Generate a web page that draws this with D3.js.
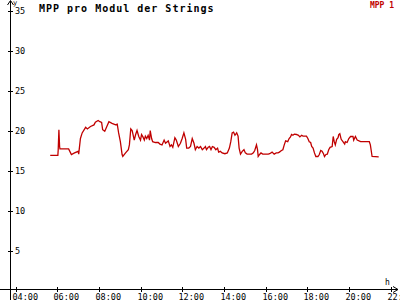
<!DOCTYPE html>
<html>
<head>
<meta charset="utf-8">
<script src="https://cdn.jsdelivr.net/npm/d3@7"></script>
<style>
  body { margin: 0; background: #fff; }
  svg { display: block; }
  text { font-family: "DejaVu Sans Mono", monospace; }
</style>
</head>
<body>
<div id="chart"></div>
<script>
// series: time of day and MPP value
const times = ["05:40","06:02","06:03","06:05","06:07","06:08","06:33","06:41","06:50","07:01","07:02","07:07","07:12","07:22","07:27","07:36","07:46","07:50","07:58","08:03","08:08","08:11","08:17","08:19","08:29","08:38","08:48","08:53","08:57","09:02","09:07","09:09","09:17","09:25","09:28","09:32","09:36","09:42","09:46","09:50","09:55","10:00","10:03","10:07","10:11","10:14","10:18","10:22","10:26","10:28","10:32","10:35","10:43","10:51","10:56","11:02","11:08","11:12","11:20","11:25","11:29","11:33","11:39","11:43","11:49","11:55","12:00","12:05","12:10","12:13","12:19","12:24","12:29","12:34","12:38","12:43","12:48","12:53","12:58","13:03","13:07","13:10","13:15","13:19","13:23","13:27","13:32","13:37","13:42","13:45","13:50","13:55","14:03","14:10","14:16","14:20","14:24","14:28","14:32","14:37","14:41","14:44","14:48","14:53","14:58","15:02","15:07","15:14","15:20","15:25","15:29","15:34","15:37","15:39","15:43","15:47","15:52","16:00","16:08","16:12","16:19","16:25","16:31","16:36","16:40","16:46","16:50","16:54","16:58","17:04","17:08","17:12","17:15","17:19","17:23","17:29","17:35","17:39","17:44","17:48","17:52","17:58","18:02","18:06","18:10","18:13","18:17","18:21","18:25","18:31","18:35","18:39","18:43","18:47","18:50","18:54","18:58","19:02","19:06","19:12","19:15","19:18","19:21","19:25","19:29","19:31","19:34","19:38","19:43","19:48","19:50","19:55","20:00","20:05","20:12","20:14","20:19","20:24","20:34","20:59","21:02","21:07","21:26"];
const mpp1 = [16.9,16.9,17.6,20.1,18.0,17.7,17.7,17.0,17.2,17.4,17.05,19.0,19.7,20.4,20.2,20.5,20.7,21.05,21.25,21.1,21.0,20.1,19.9,20.1,21.1,20.9,20.7,20.8,19.7,18.6,17.0,16.75,17.2,17.6,18.2,20.2,20.0,18.8,19.5,20.0,19.25,18.8,19.5,19.2,18.8,19.3,19.0,19.4,18.8,20.0,19.0,18.6,18.5,18.5,18.3,18.2,18.8,18.4,18.7,18.0,18.2,17.9,19.1,18.8,18.0,18.4,19.0,19.7,18.9,17.8,17.8,18.0,19.0,18.4,17.6,18.0,17.8,18.0,17.6,17.8,18.0,17.6,17.9,18.0,17.6,18.0,17.9,17.6,17.8,17.3,17.4,17.2,17.1,17.2,17.8,18.6,19.7,19.8,19.4,19.7,19.3,17.8,17.05,17.4,17.6,17.2,17.05,17.05,17.05,17.2,17.5,18.2,17.6,16.75,17.0,17.2,17.05,17.05,17.05,17.1,17.3,17.05,17.2,17.2,17.3,17.5,17.6,18.2,18.7,18.6,19.0,19.2,19.5,19.4,19.55,19.5,19.4,19.2,19.4,19.3,19.3,19.3,19.0,18.6,18.5,18.0,17.8,17.2,16.75,16.75,17.0,17.5,17.4,17.1,16.75,17.0,17.05,17.6,17.9,18.0,19.25,18.6,18.2,18.9,19.1,19.5,19.6,18.9,18.6,18.3,18.6,18.5,19.0,19.25,19.25,18.8,19.25,18.8,18.6,18.6,18.2,16.75,16.7];

const yTicks = [5, 10, 15, 20, 25, 30, 35];
const xTicks = ["04:00","06:00","08:00","10:00","12:00","14:00","16:00","18:00","20:00","22:00"];

const title = "MPP pro Modul der Strings";
const seriesName = "MPP 1";

const width = 400, height = 300;
const lineColor = "#c00000";

const parse = d3.timeParse("%H:%M");
const data = times.map((t, i) => ({t: parse(t), v: mpp1[i]}));

const svg = d3.select("#chart").append("svg")
    .attr("width", width)
    .attr("height", height);

const x = d3.scaleTime()
    .domain([parse("04:00"), parse("22:00")])
    .range([15.5, 390.5]);

const y = d3.scaleLinear()
    .domain([0, 35])
    .range([290.5, 10.5]);

// axes lines
svg.append("line")
    .attr("x1", 0).attr("x2", 398)
    .attr("y1", 289.5).attr("y2", 289.5)
    .attr("stroke", "#000");
svg.append("line")
    .attr("x1", 10.5).attr("x2", 10.5)
    .attr("y1", 1).attr("y2", height)
    .attr("stroke", "#000");

// arrow heads
svg.append("path")
    .attr("d", "M393,286.5 L398,289.5 L393,292.5")
    .attr("fill", "none").attr("stroke", "#000");
svg.append("path")
    .attr("d", "M7.5,5 L10.5,0.5 L13.5,5")
    .attr("fill", "none").attr("stroke", "#000");

// y ticks
let yg = svg.append("g");
yTicks.forEach(v => {
    yg.append("line")
        .attr("x1", 8).attr("x2", 13)
        .attr("y1", Math.round(y(v)) + 0.5).attr("y2", Math.round(y(v)) + 0.5)
        .attr("stroke", "#000");
    yg.append("text")
        .attr("x", 15)
        .attr("y", y(v) + 3.5)
        .attr("font-size", 8.5)
        .text(v);
});

// x ticks
let xg = svg.append("g");
xTicks.forEach(t => {
    let px = Math.round(x(parse(t))) + 0.5;
    xg.append("line")
        .attr("x1", px).attr("x2", px)
        .attr("y1", 287).attr("y2", 292)
        .attr("stroke", "#000");
    xg.append("text")
        .attr("x", px - 4)
        .attr("y", 299.5)
        .attr("font-size", 8.5)
        .text(t);
});

// axis names
svg.append("text").attr("x", 13).attr("y", 5).attr("font-size", 7).text("y");
svg.append("text").attr("x", 385).attr("y", 285).attr("font-size", 8).text("h");

// title + legend
svg.append("text")
    .attr("x", 39).attr("y", 12)
    .attr("font-size", 10)
    .attr("font-weight", "bold")
    .attr("letter-spacing", 1)
    .text(title);

svg.append("text")
    .attr("x", 394).attr("y", 8)
    .attr("text-anchor", "end")
    .attr("font-size", 8)
    .attr("font-weight", "bold")
    .attr("fill", lineColor)
    .text(seriesName);

// the series
let line = d3.line()
    .x(d => x(d.t))
    .y(d => y(d.v));

svg.append("path")
    .datum(data)
    .attr("d", line)
    .attr("fill", "none")
    .attr("stroke", lineColor)
    .attr("stroke-width", 1.3);
</script>
</body>
</html>
